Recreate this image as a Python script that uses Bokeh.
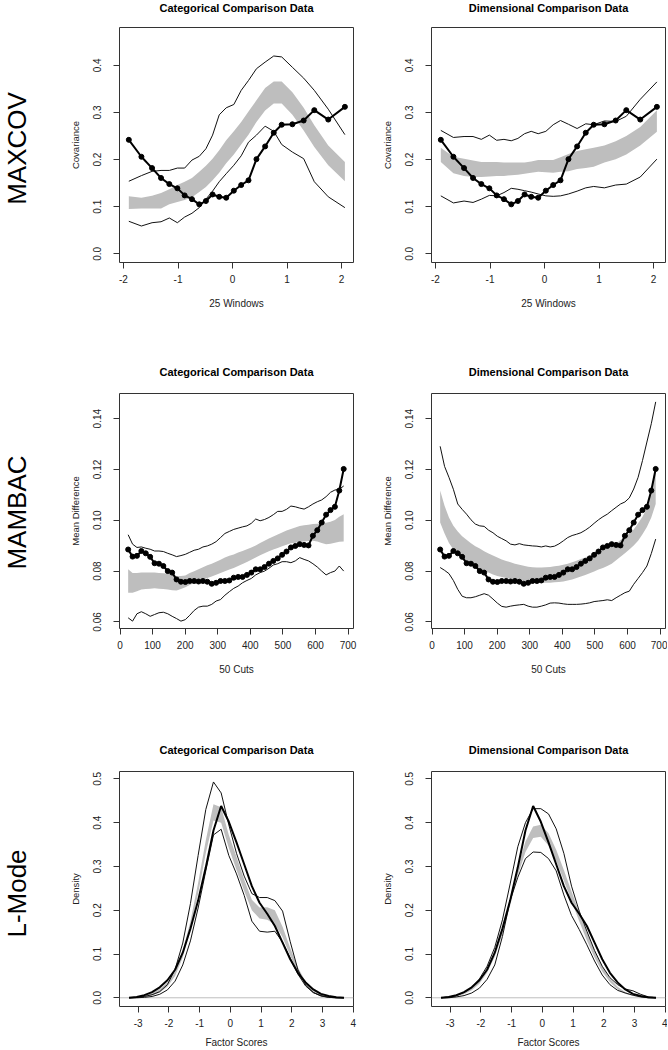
import math
from bokeh.plotting import figure
from bokeh.layouts import row, column
from bokeh.models import Range1d, FixedTicker, PrintfTickFormatter, Span
from bokeh.core.properties import value
from bokeh.embed import file_html
from bokeh.resources import INLINE

FONT = "Liberation Sans"

row_labels = ["MAXCOV", "MAMBAC", "L-Mode"]
col_titles = ["Categorical Comparison Data", "Dimensional Comparison Data"]

# ---------------- MAXCOV (25 windows) ----------------
maxcov_x = [-1.902, -1.671, -1.476, -1.311, -1.159, -1.012, -0.878, -0.744, -0.610, -0.488,
            -0.366, -0.244, -0.116, 0.024, 0.159, 0.293, 0.439, 0.598, 0.756, 0.902,
            1.098, 1.305, 1.500, 1.756, 2.061]
maxcov_research = [0.242, 0.206, 0.182, 0.161, 0.148, 0.139, 0.124, 0.116, 0.105, 0.112,
                   0.126, 0.121, 0.119, 0.134, 0.146, 0.156, 0.201, 0.228, 0.257, 0.274,
                   0.275, 0.283, 0.305, 0.285, 0.312]
maxcov_cat_upper = [0.154, 0.166, 0.175, 0.177, 0.177, 0.182, 0.182, 0.199, 0.207, 0.223,
                    0.252, 0.295, 0.310, 0.317, 0.347, 0.368, 0.393, 0.407, 0.420, 0.418,
                    0.396, 0.373, 0.347, 0.307, 0.253]
maxcov_cat_lower = [0.069, 0.059, 0.066, 0.068, 0.076, 0.066, 0.078, 0.086, 0.098, 0.116,
                    0.133, 0.153, 0.170, 0.188, 0.208, 0.237, 0.252, 0.271, 0.260, 0.232,
                    0.216, 0.202, 0.153, 0.121, 0.098]
maxcov_cat_band_hi = [0.122, 0.119, 0.123, 0.129, 0.137, 0.146, 0.153, 0.161, 0.174, 0.187,
                      0.202, 0.220, 0.241, 0.260, 0.280, 0.302, 0.326, 0.352, 0.366, 0.366,
                      0.343, 0.310, 0.273, 0.230, 0.195]
maxcov_cat_band_lo = [0.095, 0.096, 0.096, 0.096, 0.105, 0.110, 0.114, 0.120, 0.131, 0.142,
                      0.156, 0.172, 0.192, 0.211, 0.232, 0.253, 0.280, 0.304, 0.319, 0.319,
                      0.295, 0.262, 0.227, 0.188, 0.154]
maxcov_dim_upper = [0.262, 0.247, 0.249, 0.249, 0.243, 0.252, 0.241, 0.243, 0.240, 0.245,
                    0.255, 0.260, 0.255, 0.260, 0.274, 0.283, 0.275, 0.266, 0.276, 0.274,
                    0.282, 0.281, 0.292, 0.328, 0.365]
maxcov_dim_lower = [0.123, 0.108, 0.112, 0.109, 0.116, 0.124, 0.123, 0.130, 0.139, 0.137,
                    0.134, 0.131, 0.127, 0.123, 0.122, 0.123, 0.127, 0.133, 0.140, 0.143,
                    0.140, 0.146, 0.148, 0.163, 0.201]
maxcov_dim_band_hi = [0.225, 0.206, 0.202, 0.198, 0.195, 0.195, 0.195, 0.194, 0.194, 0.194,
                      0.194, 0.196, 0.199, 0.199, 0.199, 0.205, 0.212, 0.218, 0.222, 0.225,
                      0.230, 0.239, 0.250, 0.269, 0.305]
maxcov_dim_band_lo = [0.195, 0.171, 0.165, 0.163, 0.163, 0.164, 0.165, 0.165, 0.167, 0.168,
                      0.170, 0.172, 0.174, 0.173, 0.172, 0.174, 0.175, 0.180, 0.182, 0.185,
                      0.194, 0.201, 0.211, 0.230, 0.259]

# ---------------- MAMBAC (50 cuts) ----------------
mambac_x = [25, 38.5, 52, 65.5, 79, 92.5, 106, 119.5, 133, 146.5,
            160, 173.5, 187, 200.5, 214, 227.5, 241, 254.5, 268, 281.5,
            295, 308.5, 322, 335.5, 349, 362.5, 376, 389.5, 403, 416.5,
            430, 443.5, 457, 470.5, 484, 497.5, 511, 524.5, 538, 551.5,
            565, 578.5, 592, 605.5, 619, 632.5, 646, 659.5, 673, 686.5]
mambac_research = [0.0885, 0.0857, 0.0860, 0.0879, 0.0870, 0.0856, 0.0831, 0.0829, 0.0820, 0.0800,
                   0.0794, 0.0767, 0.0758, 0.0757, 0.0761, 0.0761, 0.0759, 0.0761, 0.0758, 0.0750,
                   0.0754, 0.0761, 0.0761, 0.0763, 0.0774, 0.0777, 0.0777, 0.0785, 0.0794, 0.0807,
                   0.0807, 0.0816, 0.0829, 0.0840, 0.0850, 0.0864, 0.0877, 0.0893, 0.0899, 0.0906,
                   0.0903, 0.0901, 0.0939, 0.0961, 0.0991, 0.1022, 0.1040, 0.1053, 0.1117, 0.1202]
mambac_cat_upper = [0.0943, 0.0906, 0.0893, 0.0895, 0.0890, 0.0886, 0.0879, 0.0879, 0.0877, 0.0870,
                    0.0864, 0.0857, 0.0861, 0.0866, 0.0874, 0.0882, 0.0886, 0.0895, 0.0899, 0.0906,
                    0.0916, 0.0932, 0.0948, 0.0956, 0.0964, 0.0969, 0.0974, 0.0978, 0.0988, 0.1005,
                    0.0998, 0.1003, 0.1011, 0.1022, 0.1035, 0.1035, 0.1043, 0.1056, 0.1053, 0.1048,
                    0.1044, 0.1053, 0.1064, 0.1073, 0.1080, 0.1093, 0.1110, 0.1119, 0.1122, 0.1135]
mambac_cat_lower = [0.0616, 0.0603, 0.0632, 0.0640, 0.0632, 0.0622, 0.0629, 0.0636, 0.0638, 0.0632,
                    0.0622, 0.0613, 0.0603, 0.0609, 0.0626, 0.0645, 0.0658, 0.0662, 0.0662, 0.0669,
                    0.0682, 0.0688, 0.0705, 0.0719, 0.0732, 0.0741, 0.0754, 0.0763, 0.0771, 0.0785,
                    0.0794, 0.0800, 0.0811, 0.0824, 0.0829, 0.0837, 0.0837, 0.0833, 0.0840, 0.0853,
                    0.0846, 0.0840, 0.0829, 0.0816, 0.0800, 0.0785, 0.0794, 0.0800, 0.0820, 0.0800]
mambac_cat_band_hi = [0.0807, 0.0792, 0.0792, 0.0794, 0.0794, 0.0794, 0.0794, 0.0792, 0.0791, 0.0790,
                      0.0785, 0.0781, 0.0781, 0.0783, 0.0792, 0.0799, 0.0807, 0.0815, 0.0823, 0.0829,
                      0.0837, 0.0845, 0.0853, 0.0860, 0.0865, 0.0873, 0.0879, 0.0886, 0.0893, 0.0901,
                      0.0911, 0.0919, 0.0928, 0.0936, 0.0944, 0.0952, 0.0960, 0.0966, 0.0972, 0.0977,
                      0.0980, 0.0982, 0.0985, 0.0986, 0.0988, 0.0990, 0.0994, 0.1001, 0.1014, 0.1024]
mambac_cat_band_lo = [0.0715, 0.0715, 0.0721, 0.0728, 0.0729, 0.0730, 0.0732, 0.0730, 0.0729, 0.0728,
                      0.0725, 0.0724, 0.0729, 0.0736, 0.0745, 0.0753, 0.0759, 0.0766, 0.0773, 0.0779,
                      0.0786, 0.0792, 0.0799, 0.0806, 0.0812, 0.0820, 0.0828, 0.0836, 0.0845, 0.0853,
                      0.0862, 0.0870, 0.0878, 0.0885, 0.0891, 0.0898, 0.0904, 0.0910, 0.0912, 0.0915,
                      0.0916, 0.0918, 0.0919, 0.0916, 0.0911, 0.0906, 0.0908, 0.0912, 0.0915, 0.0916]
mambac_dim_upper = [0.1291, 0.1212, 0.1169, 0.1122, 0.1064, 0.1043, 0.1024, 0.1002, 0.0985, 0.0978,
                    0.0976, 0.0961, 0.0951, 0.0937, 0.0928, 0.0919, 0.0906, 0.0903, 0.0908, 0.0903,
                    0.0901, 0.0899, 0.0898, 0.0895, 0.0899, 0.0895, 0.0898, 0.0907, 0.0919, 0.0932,
                    0.0940, 0.0945, 0.0951, 0.0961, 0.0973, 0.0988, 0.1002, 0.1014, 0.1024, 0.1038,
                    0.1051, 0.1064, 0.1072, 0.1088, 0.1123, 0.1169, 0.1235, 0.1308, 0.1380, 0.1466]
mambac_dim_lower = [0.0814, 0.0803, 0.0790, 0.0763, 0.0728, 0.0701, 0.0695, 0.0695, 0.0699, 0.0705,
                    0.0711, 0.0705, 0.0690, 0.0674, 0.0661, 0.0658, 0.0662, 0.0665, 0.0667, 0.0669,
                    0.0662, 0.0658, 0.0658, 0.0662, 0.0667, 0.0674, 0.0675, 0.0674, 0.0671, 0.0669,
                    0.0669, 0.0669, 0.0670, 0.0672, 0.0675, 0.0680, 0.0682, 0.0684, 0.0687, 0.0684,
                    0.0695, 0.0705, 0.0715, 0.0721, 0.0748, 0.0771, 0.0794, 0.0820, 0.0869, 0.0926]
mambac_dim_band_hi = [0.1117, 0.1057, 0.1011, 0.0978, 0.0956, 0.0937, 0.0923, 0.0910, 0.0898, 0.0889,
                      0.0878, 0.0869, 0.0861, 0.0853, 0.0846, 0.0840, 0.0835, 0.0829, 0.0825, 0.0821,
                      0.0817, 0.0815, 0.0814, 0.0814, 0.0815, 0.0816, 0.0819, 0.0821, 0.0825, 0.0829,
                      0.0835, 0.0841, 0.0848, 0.0853, 0.0861, 0.0868, 0.0875, 0.0883, 0.0890, 0.0898,
                      0.0908, 0.0922, 0.0935, 0.0948, 0.0964, 0.0988, 0.1014, 0.1048, 0.1117, 0.1219]
mambac_dim_band_lo = [0.0991, 0.0948, 0.0911, 0.0885, 0.0864, 0.0846, 0.0833, 0.0823, 0.0815, 0.0807,
                      0.0800, 0.0794, 0.0787, 0.0781, 0.0777, 0.0773, 0.0769, 0.0766, 0.0763, 0.0761,
                      0.0758, 0.0756, 0.0754, 0.0754, 0.0754, 0.0754, 0.0756, 0.0757, 0.0759, 0.0763,
                      0.0767, 0.0773, 0.0779, 0.0785, 0.0791, 0.0798, 0.0806, 0.0812, 0.0820, 0.0829,
                      0.0843, 0.0856, 0.0870, 0.0885, 0.0901, 0.0919, 0.0945, 0.0974, 0.1011, 0.1064]

# ---------------- L-Mode (density of factor scores) ----------------
lmode_x = [-3.30, -3.05, -2.80, -2.55, -2.30, -2.05, -1.80, -1.55, -1.30, -1.05,
           -0.80, -0.55, -0.30, -0.05, 0.20, 0.45, 0.70, 0.95, 1.20, 1.45,
           1.70, 1.95, 2.20, 2.45, 2.70, 2.95, 3.20, 3.45, 3.70]
lmode_research = [0.000, 0.002, 0.006, 0.013, 0.024, 0.040, 0.064, 0.103, 0.158, 0.222,
                  0.298, 0.382, 0.438, 0.402, 0.355, 0.305, 0.255, 0.217, 0.192, 0.164,
                  0.126, 0.088, 0.057, 0.035, 0.019, 0.009, 0.004, 0.001, 0.000]
lmode_cat_upper = [0.000, 0.001, 0.003, 0.007, 0.014, 0.030, 0.065, 0.125, 0.215, 0.325,
                   0.430, 0.493, 0.468, 0.395, 0.330, 0.278, 0.238, 0.229, 0.229, 0.222,
                   0.198, 0.128, 0.064, 0.029, 0.012, 0.004, 0.001, 0.000, 0.000]
lmode_cat_lower = [0.000, 0.000, 0.001, 0.003, 0.008, 0.018, 0.038, 0.075, 0.130, 0.205,
                   0.290, 0.372, 0.385, 0.325, 0.283, 0.234, 0.175, 0.152, 0.150, 0.152,
                   0.127, 0.090, 0.054, 0.027, 0.012, 0.005, 0.001, 0.000, 0.000]
lmode_cat_band_hi = [0.000, 0.002, 0.005, 0.011, 0.020, 0.035, 0.062, 0.108, 0.175, 0.262,
                     0.360, 0.442, 0.435, 0.372, 0.322, 0.270, 0.224, 0.206, 0.207, 0.200,
                     0.162, 0.114, 0.069, 0.037, 0.018, 0.008, 0.003, 0.001, 0.000]
lmode_cat_band_lo = [0.000, 0.000, 0.002, 0.005, 0.012, 0.025, 0.050, 0.092, 0.155, 0.238,
                     0.330, 0.405, 0.400, 0.342, 0.292, 0.244, 0.200, 0.181, 0.178, 0.168,
                     0.138, 0.096, 0.056, 0.028, 0.012, 0.004, 0.001, 0.000, 0.000]
lmode_dim_upper = [0.000, 0.002, 0.005, 0.012, 0.024, 0.043, 0.072, 0.115, 0.178, 0.260,
                   0.345, 0.400, 0.432, 0.432, 0.420, 0.386, 0.330, 0.255, 0.198, 0.152,
                   0.108, 0.072, 0.046, 0.030, 0.020, 0.016, 0.008, 0.002, 0.000]
lmode_dim_lower = [0.000, 0.000, 0.002, 0.005, 0.011, 0.022, 0.042, 0.075, 0.140, 0.222,
                   0.275, 0.318, 0.333, 0.332, 0.318, 0.290, 0.235, 0.188, 0.156, 0.121,
                   0.084, 0.052, 0.030, 0.017, 0.011, 0.006, 0.002, 0.000, 0.000]
lmode_dim_band_hi = [0.000, 0.002, 0.005, 0.012, 0.023, 0.040, 0.067, 0.106, 0.160, 0.228,
                     0.300, 0.357, 0.391, 0.395, 0.376, 0.338, 0.292, 0.243, 0.195, 0.149,
                     0.108, 0.072, 0.044, 0.025, 0.013, 0.006, 0.002, 0.000, 0.000]
lmode_dim_band_lo = [0.000, 0.000, 0.003, 0.008, 0.017, 0.032, 0.057, 0.094, 0.145, 0.210,
                     0.280, 0.333, 0.365, 0.368, 0.348, 0.312, 0.268, 0.221, 0.175, 0.131,
                     0.092, 0.060, 0.036, 0.019, 0.009, 0.004, 0.001, 0.000, 0.000]

# axis settings
maxcov_xticks = [-2, -1, 0, 1, 2]
maxcov_yticks = [0.0, 0.1, 0.2, 0.3, 0.4]
mambac_xticks = [0, 100, 200, 300, 400, 500, 600, 700]
mambac_yticks = [0.06, 0.08, 0.10, 0.12, 0.14]
lmode_xticks = [-3, -2, -1, 0, 1, 2, 3, 4]
lmode_yticks = [0.0, 0.1, 0.2, 0.3, 0.4, 0.5]

BAND = "#bebebe"
FRAME_W, FRAME_H = 234, 235
LAB_W = 48
LEFT_B, RIGHT_B_L, RIGHT_B_R = 71, 7, 2
STRIP_H = 14


def make_panel(title, xr, yr, xticks, yticks, yfmt, xlabel, ylabel, right_col,
               top, bottom, title_standoff, xlab_standoff):
    p = figure(frame_width=FRAME_W, frame_height=FRAME_H,
               x_range=Range1d(*xr), y_range=Range1d(*yr),
               output_backend="svg", toolbar_location=None,
               min_border_left=LEFT_B, min_border_right=(RIGHT_B_R if right_col else RIGHT_B_L),
               min_border_top=top, min_border_bottom=bottom,
               background_fill_color="white", border_fill_color="white")
    if title:
        p.title.text = title
        p.title.align = "center"
        p.title.text_font = FONT
        p.title.text_font_size = "11px"
        p.title.text_font_style = "bold"
        p.title.text_color = "black"
        p.title.standoff = title_standoff
    p.xgrid.visible = False
    p.ygrid.visible = False
    p.outline_line_color = "#333333"
    p.outline_line_width = 1
    for ax in (p.xaxis[0], p.yaxis[0]):
        ax.axis_line_color = None
        ax.major_tick_in = 0
        ax.major_tick_out = 6
        ax.major_tick_line_color = "#333333"
        ax.minor_tick_line_color = None
        ax.major_label_text_font = FONT
        ax.major_label_text_font_size = "10px"
        ax.major_label_text_color = "#222222"
        ax.axis_label_text_font = FONT
        ax.axis_label_text_font_style = "normal"
        ax.axis_label_text_color = "#222222"
    xa, ya = p.xaxis[0], p.yaxis[0]
    xa.ticker = FixedTicker(ticks=xticks)
    xa.formatter = PrintfTickFormatter(format="%d")
    xa.major_label_standoff = 6
    xa.axis_label = xlabel
    xa.axis_label_text_font_size = "10px"
    xa.axis_label_standoff = xlab_standoff
    ya.ticker = FixedTicker(ticks=yticks)
    ya.formatter = PrintfTickFormatter(format=yfmt)
    ya.major_label_orientation = "vertical"
    ya.major_label_standoff = 12
    ya.axis_label = ylabel
    ya.axis_label_text_font_size = "9.5px"
    ya.axis_label_standoff = 10
    return p


def draw_curves(p, x, band_lo, band_hi, upper, lower, research, points):
    p.varea(x=x, y1=band_lo, y2=band_hi, fill_color=BAND, fill_alpha=1.0)
    p.line(x, upper, line_color="#111111", line_width=1)
    p.line(x, lower, line_color="#111111", line_width=1)
    p.line(x, research, line_color="black", line_width=2)
    if points:
        p.scatter(x, research, size=5, color="black")


# Title strip for the top row (drawn as text so it can sit near the page top)
GRID_W = 2 * (LEFT_B + FRAME_W) + RIGHT_B_L + RIGHT_B_R
strip = figure(width=GRID_W, height=STRIP_H, x_range=Range1d(0, GRID_W),
               y_range=Range1d(STRIP_H, 0), output_backend="svg", toolbar_location=None,
               min_border=0, x_axis_type=None, y_axis_type=None,
               background_fill_color="white", border_fill_color="white")
strip.outline_line_color = None
strip.xgrid.visible = False
strip.ygrid.visible = False
title_x = [LEFT_B + FRAME_W / 2, LEFT_B + FRAME_W + RIGHT_B_L + LEFT_B + FRAME_W / 2]
strip.text(x=title_x, y=[7, 7], text=col_titles, text_align="center", text_baseline="middle",
           text_font=value(FONT), text_font_size="11px", text_font_style="bold",
           text_color="black")

# Row 1: MAXCOV
maxcov_xr = (-2.073, 2.219)
maxcov_yr = (-0.0185, 0.4805)
p1 = make_panel(None, maxcov_xr, maxcov_yr, maxcov_xticks, maxcov_yticks, "%.1f",
                "25 Windows", "Covariance", False, 27 - STRIP_H, 73, 0, 12)
draw_curves(p1, maxcov_x, maxcov_cat_band_lo, maxcov_cat_band_hi, maxcov_cat_upper,
            maxcov_cat_lower, maxcov_research, True)
p2 = make_panel(None, maxcov_xr, maxcov_yr, maxcov_xticks, maxcov_yticks, "%.1f",
                "25 Windows", "Covariance", True, 27 - STRIP_H, 73, 0, 12)
draw_curves(p2, maxcov_x, maxcov_dim_band_lo, maxcov_dim_band_hi, maxcov_dim_upper,
            maxcov_dim_lower, maxcov_research, True)

# Row 2: MAMBAC
mambac_xr = (-1.6, 716.6)
mambac_yr = (0.0574, 0.1499)
p3 = make_panel(col_titles[0], mambac_xr, mambac_yr, mambac_xticks, mambac_yticks, "%.2f",
                "50 Cuts", "Mean Difference", False, 58, 72, 31, 12)
draw_curves(p3, mambac_x, mambac_cat_band_lo, mambac_cat_band_hi, mambac_cat_upper,
            mambac_cat_lower, mambac_research, True)
p4 = make_panel(col_titles[1], mambac_xr, mambac_yr, mambac_xticks, mambac_yticks, "%.2f",
                "50 Cuts", "Mean Difference", True, 58, 72, 31, 12)
draw_curves(p4, mambac_x, mambac_dim_band_lo, mambac_dim_band_hi, mambac_dim_upper,
            mambac_dim_lower, mambac_research, True)

# Row 3: L-Mode
lmode_xr = (-3.61, 4.01)
lmode_yr = (-0.0199, 0.5169)
p5 = make_panel(col_titles[0], lmode_xr, lmode_yr, lmode_xticks, lmode_yticks, "%.1f",
                "Factor Scores", "Density", False, 71, 43, 31, 7)
p6 = make_panel(col_titles[1], lmode_xr, lmode_yr, lmode_xticks, lmode_yticks, "%.1f",
                "Factor Scores", "Density", True, 71, 43, 31, 7)
for p in (p5, p6):
    zero = Span(location=0, dimension="width", line_color=BAND, line_width=1)
    zero.level = "underlay"
    p.add_layout(zero)
draw_curves(p5, lmode_x, lmode_cat_band_lo, lmode_cat_band_hi, lmode_cat_upper,
            lmode_cat_lower, lmode_research, False)
draw_curves(p6, lmode_x, lmode_dim_band_lo, lmode_dim_band_hi, lmode_dim_upper,
            lmode_dim_lower, lmode_research, False)

# Row labels column
TOTAL_H = 27 + FRAME_H + 73 + 58 + FRAME_H + 72 + 71 + FRAME_H + 43
lab = figure(width=LAB_W, height=TOTAL_H, x_range=Range1d(0, LAB_W), y_range=Range1d(TOTAL_H, 0),
             output_backend="svg", toolbar_location=None, min_border=0,
             x_axis_type=None, y_axis_type=None,
             background_fill_color="white", border_fill_color="white")
lab.outline_line_color = None
lab.xgrid.visible = False
lab.ygrid.visible = False
label_y = [148, 512, 893]
lab.text(x=[16, 16, 16], y=label_y, text=row_labels, angle=math.pi / 2,
         text_align="center", text_baseline="middle",
         text_font=value(FONT), text_font_size="26px", text_color="black")

grid = column(strip, row(p1, p2), row(p3, p4), row(p5, p6))
layout = row(lab, grid)

open("out.html", "w").write(file_html(layout, INLINE))
